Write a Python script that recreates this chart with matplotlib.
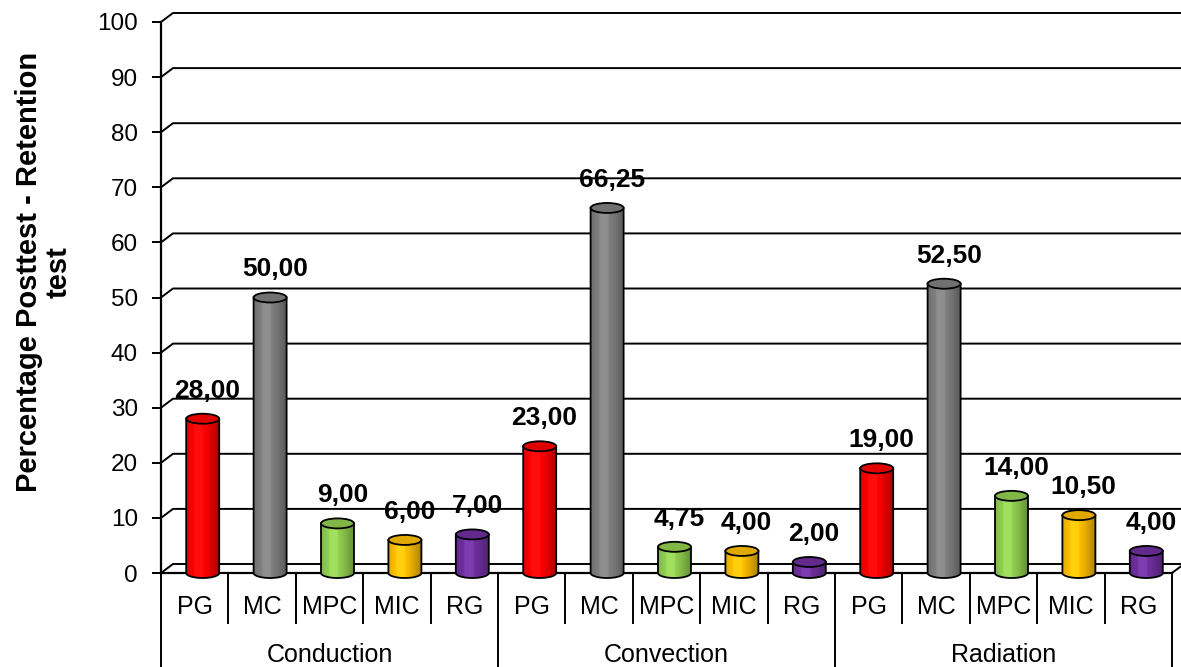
import numpy as np
import matplotlib
matplotlib.use('Agg')
import matplotlib.pyplot as plt
from matplotlib.patches import Polygon, Ellipse
from matplotlib.colors import to_rgb

groups     = ['Conduction', 'Convection', 'Radiation']
sub_labels = ['PG', 'MC', 'MPC', 'MIC', 'RG']
sub_colors = ['#FF0000', '#808080', '#92D050', '#FFC000', '#7030A0']
conduction = [28.00, 50.00, 9.00, 6.00, 7.00]
convection = [23.00, 66.25, 4.75, 4.00, 2.00]
radiation  = [19.00, 52.50, 14.00, 10.50, 4.00]
yticks     = list(range(0, 101, 10))

plt.rcParams['font.family'] = ['Liberation Sans', 'DejaVu Sans']

W, H = 1181, 667
fig = plt.figure(figsize=(W/100, H/100), dpi=100)
ax_l, ax_b, ax_w, ax_h = 161, 94, 1011, 551          # pixels
ax = fig.add_axes([ax_l/W, ax_b/H, ax_w/W, ax_h/H])

n_cat = len(groups)*len(sub_labels)
ax.set_xlim(0, n_cat)
ax.set_ylim(0, 100)
px_x = ax_w/n_cat          # pixels per x unit
px_y = ax_h/100            # pixels per y unit

## 3D-ish depth offset of the back wall
dx, dy = 12/px_x, 9/px_y

for v in yticks:
    ax.plot([0, dx, n_cat+dx], [v, v+dy, v+dy], color='k', lw=1.4, zorder=1, clip_on=False)
# floor
ax.plot([0, n_cat], [0, 0], color='k', lw=1.6, zorder=1.5, clip_on=False)
ax.plot([n_cat, n_cat+dx], [0, dy], color='k', lw=1.4, zorder=1, clip_on=False)

## cylinders
bw  = 33/px_x
ry  = 5/px_y
off = 8/px_x

def shade(color, n=60):
    r = np.array(to_rgb(color))
    t = np.linspace(0, 1, n)
    f = 0.78 + 0.24*np.cos((t-0.38)*np.pi)
    f = np.clip(f, 0, 1.05)
    g = np.clip(r[None, :]*f[:, None] + 0.05*(f[:, None] > 1.0), 0, 1)
    return g[None, :, :]

def cylinder(xc, h, color):
    x0, x1 = xc - bw/2, xc + bw/2
    t = np.linspace(0, np.pi, 40)
    verts = [(x0, h), (x1, h)] + list(zip(xc + bw/2*np.cos(t), -ry*np.sin(t)))
    body = Polygon(verts, closed=True, facecolor='none', edgecolor='k', lw=1.3,
                   zorder=3, clip_on=False)
    ax.add_patch(body)
    im = ax.imshow(shade(color), extent=(x0, x1, -ry, h), aspect='auto',
                   interpolation='bilinear', zorder=2.5)
    im.set_clip_box(fig.bbox)
    im.set_clip_path(body)
    top = np.array(to_rgb(color))*0.88
    ax.add_patch(Ellipse((xc, h), bw, 2*ry, facecolor=top, edgecolor='k',
                         lw=1.3, zorder=4, clip_on=False))

values = conduction + convection + radiation
for i, v in enumerate(values):
    c = sub_colors[i % len(sub_labels)]
    xc = i + 0.5 + off
    cylinder(xc, v, c)
    ax.annotate(f'{v:.2f}'.replace('.', ','), (i + 0.5 + 1.6*off, v),
                xytext=(0, 16), textcoords='offset pixels', ha='center', va='bottom',
                fontsize=19, fontweight='bold', zorder=5)

ax.set_xlim(0, n_cat)
ax.set_ylim(0, 100)

## axes styling
for s in ['top', 'right', 'bottom']:
    ax.spines[s].set_visible(False)
ax.spines['left'].set_linewidth(1.6)
ax.set_yticks(yticks)
ax.tick_params(axis='y', length=6.5, width=1.4, pad=10, labelsize=17.5)
ax.set_xticks([])
ax.patch.set_visible(False)

## two-level category axis
xt = ax.get_xaxis_transform()
for k in range(n_cat + 1):
    y_end = -ax_b/ax_h if k % len(sub_labels) == 0 else -50/ax_h
    ax.plot([k, k], [0, y_end], color='k', lw=1.4, transform=xt, clip_on=False)
for i in range(n_cat):
    ax.text(i + 0.5, -34/ax_h, sub_labels[i % len(sub_labels)], transform=xt,
            ha='center', va='center', fontsize=18)
for g, name in enumerate(groups):
    ax.text(g*len(sub_labels) + len(sub_labels)/2, -82/ax_h, name, transform=xt,
            ha='center', va='center', fontsize=18)

fig.text(44/W, 1 - 272/H, 'Percentage Posttest - Retention\ntest', rotation=90,
         ha='center', va='center', multialignment='center', fontsize=21,
         fontweight='bold', linespacing=1.05)

fig.savefig('out.png', dpi=100)
